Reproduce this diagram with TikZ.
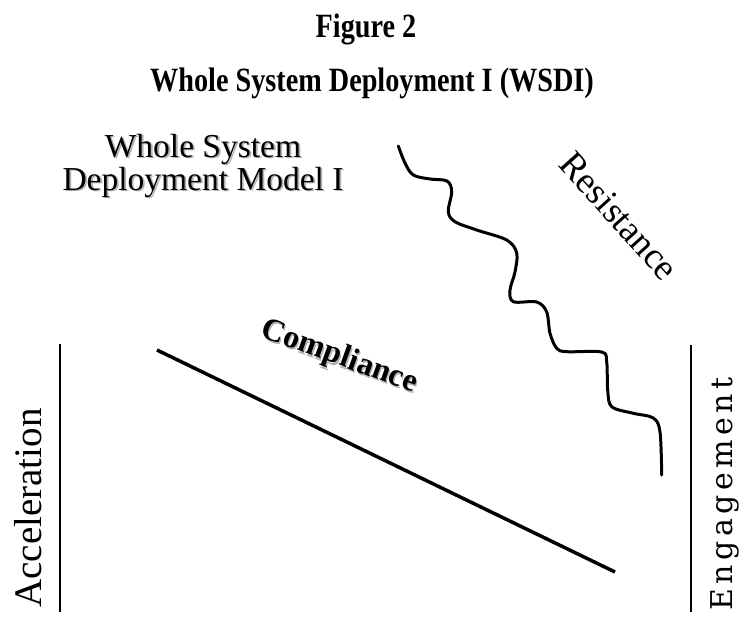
\documentclass[tikz,border=0pt]{standalone}
\usepackage{fontspec}
\setmainfont{Liberation Serif}
\newfontfamily\engfont[LetterSpace=15]{DejaVu Serif}
\newcommand\shadowed[1]{\makebox[0pt][l]{\hspace{1.8pt}\raisebox{-1.8pt}{\textcolor{black!30}{#1}}}#1}
\begin{document}
\begin{tikzpicture}[x=1pt,y=-1pt,
  title/.style={font=\bfseries\fontsize{34}{36}\selectfont, inner sep=0pt, anchor=base},
  thickline/.style={line width=3pt, line cap=round, line join=round},
  axisline/.style={line width=1.8pt}
]
\useasboundingbox (0,0) rectangle (744,621);
% titles
\node[title] (t1) at (366,37) {\scalebox{0.83}[1]{Figure 2}};
\node[title] (t2) at (372,91) {\scalebox{0.83}[1]{Whole System Deployment I (WSDI)}};
% model label with shadow
\node[font=\fontsize{33.5}{33}\selectfont, align=center, inner sep=0pt, anchor=base] (model) at (203,190)
  {\shadowed{Whole System}\\\shadowed{Deployment Model I}};
% wavy resistance line
\draw[thickline] plot[smooth, tension=0.55] coordinates {
 (398.3,146) (405,163) (413.3,175) (430,179) (447,181) (451.7,191.7) (448.3,211.7)
 (455,221.7) (476.7,230) (506.7,240) (516.7,253) (515,272) (510,290) (513.3,301.7)
 (536.7,302) (546.7,312) (550,333.3) (556.7,348.3) (566.7,351.7) (601.7,352)
 (606.7,362) (607.7,390) (611.7,406.7) (633.3,413.3) (653.3,418) (660,432) (661.7,475)};
\node[font=\fontsize{37}{39}\selectfont, rotate=-48, inner sep=0pt] (res) at (619,216) {Resistance};
% compliance line
\coordinate (c1) at (157,350);
\coordinate (c2) at (615,572);
\draw[line width=3.5pt] (c1) -- (c2);
\node[font=\bfseries\fontsize{32}{34}\selectfont, rotate=-20, inner sep=0pt] (comp) at (339,358) {\shadowed{Compliance}};
% vertical lines
\coordinate (l1) at (60,344);
\coordinate (l2) at (60,612);
\draw[axisline] (l1) -- (l2);
\coordinate (r1) at (691,345);
\coordinate (r2) at (691,612);
\draw[axisline] (r1) -- (r2);
\node[font=\fontsize{39}{41}\selectfont, rotate=90, inner sep=0pt] (acc) at (28,508) {Acceleration};
\node[font=\engfont\fontsize{30}{32}\selectfont, rotate=90, inner sep=0pt] (eng) at (725,494) {Engagement};
\end{tikzpicture}
\end{document}
